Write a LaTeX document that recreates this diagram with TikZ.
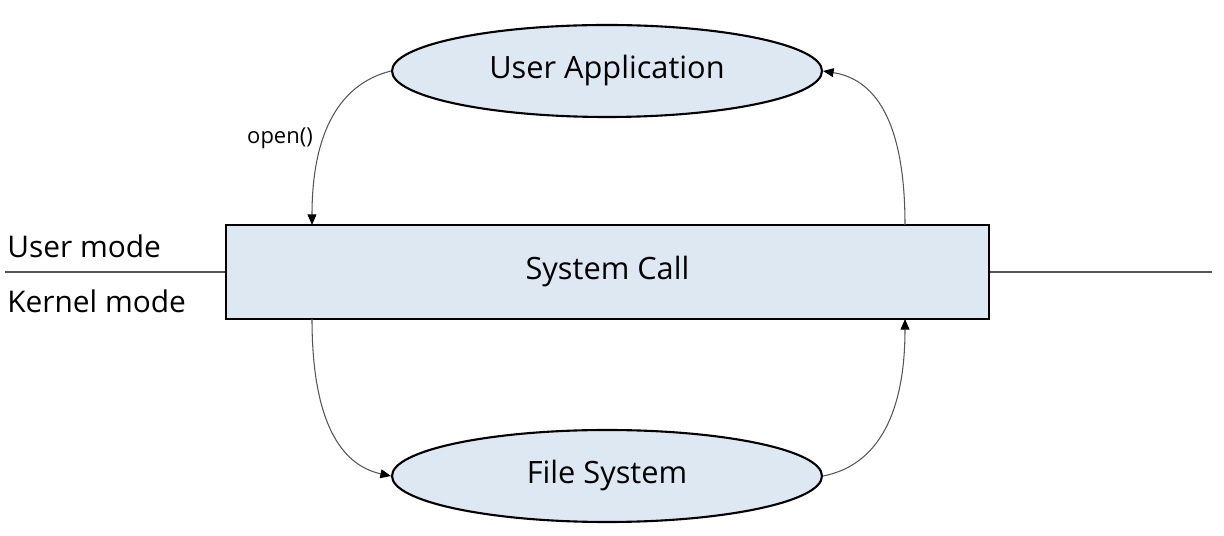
\documentclass[tikz,border=0pt]{standalone}
\usepackage{fontspec}
\setmainfont{Open Sans}
\usetikzlibrary{shapes.geometric,arrows.meta}
\definecolor{boxfill}{HTML}{DEE8F3}
\definecolor{linegray}{HTML}{555555}
\begin{document}
\begin{tikzpicture}[x=0.02cm,y=-0.02cm,
  shapebox/.style={draw=black,line width=1.2pt,fill=boxfill,font=\fontsize{17.5}{20}\selectfont},
  oval/.style={shapebox,ellipse,minimum width=430*0.02cm,minimum height=92*0.02cm,inner sep=0pt},
  conn/.style={draw=linegray,line width=0.6pt,-{Triangle[length=6pt,width=5pt,fill=black,color=black]}},
  plain/.style={draw=linegray,line width=0.6pt},
  lbl/.style={font=\fontsize{17}{20}\selectfont,anchor=west,inner sep=0pt}]
\useasboundingbox (0,0) rectangle (1224,536);
\node[oval] (ua) at (607,71) {\raisebox{-1.5pt}{User Application}};
\node[oval] (fs) at (607,476) {\raisebox{-1.5pt}{File System}};
\node[shapebox,rectangle,minimum width=763*0.02cm,minimum height=94*0.02cm,inner sep=0pt] (sc) at (607.5,272) {\raisebox{-1.5pt}{System Call}};
\coordinate (lend) at (5,272);
\coordinate (rend) at (1212,272);
\draw[plain] (lend) -- (sc.west);
\draw[plain] (sc.east) -- (rend);
\node[lbl] (um) at (7,246) {User mode};
\node[lbl] (km) at (7,301) {Kernel mode};
\node[font=\fontsize{12.5}{15}\selectfont,inner sep=0pt] (op) at (280,138) {open()};
\coordinate (a1) at (312,225);
\coordinate (a2) at (905,225);
\coordinate (b1) at (312,319);
\coordinate (b2) at (905,319);
\draw[conn] (ua.west) .. controls (335,85) and (312,140) .. (a1);
\draw[conn] (a2) .. controls (905,130) and (880,80) .. (ua.east);
\draw[conn] (b1) .. controls (312,420) and (340,465) .. (fs.west);
\draw[conn] (fs.east) .. controls (880,465) and (905,410) .. (b2);
\end{tikzpicture}
\end{document}
